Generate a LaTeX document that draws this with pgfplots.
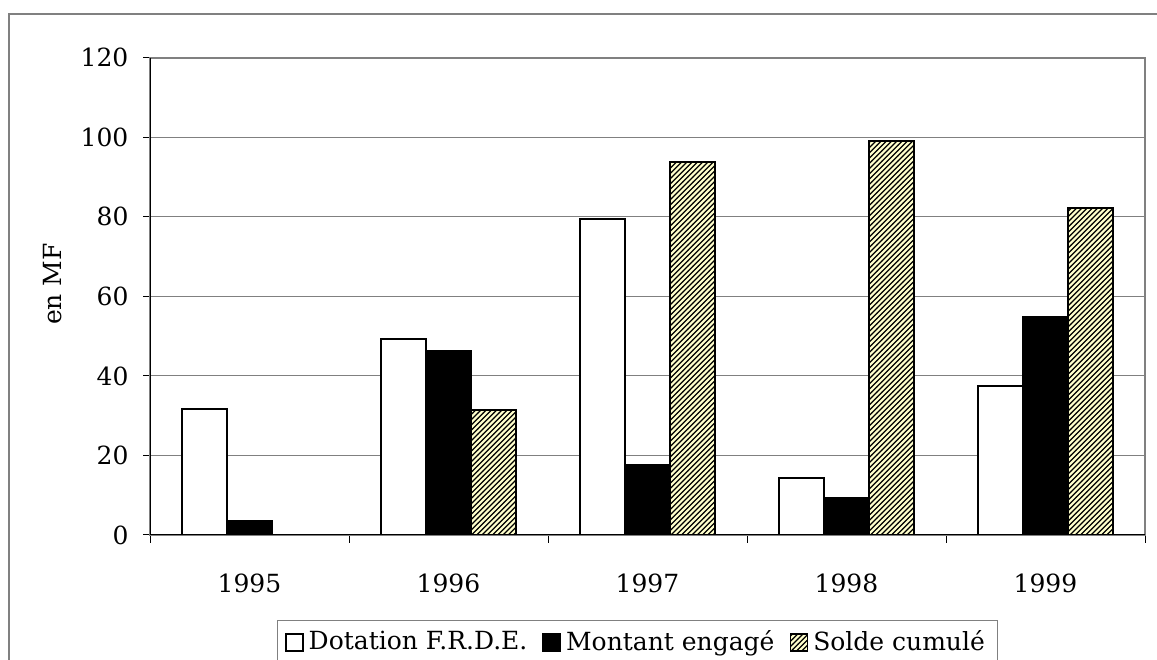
\documentclass[border=0pt]{standalone}
\usepackage{fontspec}
\setmainfont{DejaVu Serif}
\usepackage{pgfplots}
\pgfplotsset{compat=1.18}
\usetikzlibrary{patterns}

\definecolor{solde}{HTML}{FFFFCC}
\definecolor{gridgrey}{HTML}{808080}

% fine diagonal hatching, as in the source
\pgfdeclarepatternformonly{dense ne}{\pgfqpoint{-1pt}{-1pt}}{\pgfqpoint{3pt}{3pt}}{\pgfqpoint{2.1pt}{2.1pt}}{%
  \pgfsetlinewidth{0.5pt}%
  \pgfpathmoveto{\pgfqpoint{0pt}{0pt}}%
  \pgfpathlineto{\pgfqpoint{2.2pt}{2.2pt}}%
  \pgfusepath{stroke}}

\begin{document}
\begin{tikzpicture}
\useasboundingbox (-60pt,-50pt) rectangle (402.8pt,214pt);
\draw[gridgrey, line width=0.5pt] (-56.4pt,-60pt) -- (-56.4pt,208.4pt) -- (410pt,208.4pt);
\begin{axis}[
    width=398pt, height=190.9pt, scale only axis,
    xmin=-0.5, xmax=4.5, ymin=0, ymax=120,
    ybar=0pt, bar width=18pt,
    xtick={0,...,4},
    xticklabels={1995,1996,1997,1998,1999},
    minor xtick={-0.5,0.5,...,4.5},
    major x tick style={draw=none},
    ytick={0,20,...,120},
    tick align=outside, xtick pos=bottom, ytick pos=left,
    major tick length=2.8pt, minor tick length=3.2pt,
    tick style={black, line width=0.4pt},
    ymajorgrids, grid style={gridgrey, line width=0.45pt},
    axis line style={gridgrey, line width=0.8pt},
    /pgf/number format/assume math mode=true,
    yticklabel style={xshift=-2.3pt},
    xticklabel style={yshift=-9.4pt},
    legend style={at={(axis description cs:0.1276,-0.178)}, anchor=north west,
        draw=gridgrey, line width=0.4pt, legend columns=3,
        /tikz/every even column/.append style={column sep=4pt}},
    legend image code/.code={\draw[#1, line width=0.7pt] (0pt,-3.4pt) rectangle (6.8pt,3.4pt);},
]
\addplot[draw=black, fill=white, line width=0.75pt]
    coordinates {(0,31.7) (1,49.2) (2,79.5) (3,14.3) (4,37.5)};
\addlegendentry{Dotation F.R.D.E.}
\addplot[draw=black, fill=black, line width=0.75pt]
    coordinates {(0,3.6) (1,46.3) (2,17.5) (3,9.2) (4,54.8)};
\addlegendentry{Montant engagé}
\addplot[draw=black, fill=solde, line width=0.75pt, postaction={pattern=dense ne}]
    coordinates {(1,31.4) (2,93.8) (3,99.1) (4,82.2)};
\addlegendentry{Solde cumulé}
\draw[black, line width=0.8pt] (rel axis cs:0,1) -- (rel axis cs:0,0) -- (rel axis cs:1,0);
\end{axis}
\node[rotate=90] at (-38.8pt,100.4pt) {en MF};
\end{tikzpicture}
\end{document}
